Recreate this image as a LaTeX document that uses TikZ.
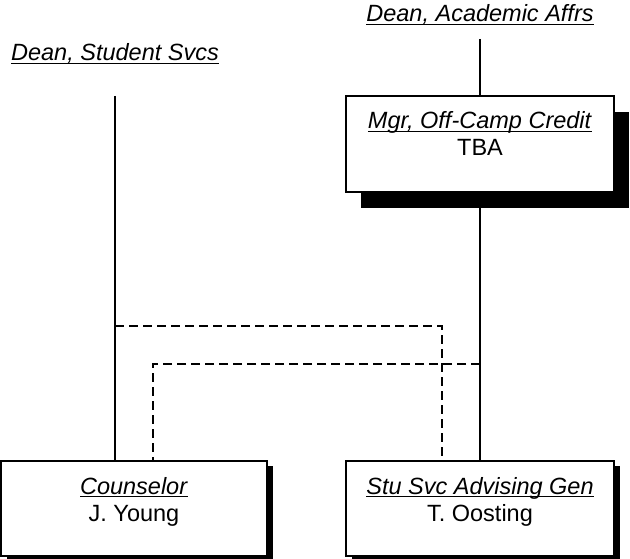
\documentclass[tikz,border=0pt]{standalone}
\usepackage{fontspec}
\setmainfont{Liberation Sans}
\usetikzlibrary{shadows}
\newsavebox\ulbox
\newcommand\ulx[1]{\sbox\ulbox{#1}\rlap{\rule[-3.4pt]{\wd\ulbox}{1.4pt}}\usebox\ulbox}
\begin{document}
\begin{tikzpicture}[x=1pt,y=-1pt,
  every node/.style={font=\fontsize{23.5}{27}\selectfont, inner sep=0pt},
  txt/.style={anchor=base},
  orgbox/.style={draw, line width=2pt, fill=white, minimum height=95pt},
  bigbox/.style={orgbox, minimum width=268pt, minimum height=96pt,
    drop shadow={shadow xshift=15pt, shadow yshift=-16pt, fill=black, opacity=1}},
  smallbox/.style={orgbox,
    drop shadow={shadow xshift=6pt, shadow yshift=-5pt, fill=black, opacity=1}},
  solidline/.style={line width=1.6pt},
  dashline/.style={line width=1.6pt, dash pattern=on 9pt off 5pt}]
\useasboundingbox (0,0) rectangle (630,559);
\fill[white] (0,0) rectangle (630,559);
% boxes
\node[bigbox] (mgr) at (480,144) {};
\node[smallbox, minimum width=266pt] (couns) at (134,508.5) {};
\node[smallbox, minimum width=268pt] (stu) at (480,508.5) {};
% texts
\node[txt] (deanaa) at (480,22) {\ulx{\textit{Dean, Academic Affrs}}};
\node[txt] (deanss) at (115,61) {\ulx{\textit{Dean, Student Svcs}}};
\node[txt] (mgrt) at (480,129) {\ulx{\textit{Mgr, Off-Camp Credit}}};
\node[txt] (mgrn) at (480,156) {TBA};
\node[txt] (counst) at (134,494) {\ulx{\textit{Counselor}}};
\node[txt] (counsn) at (134,521) {J. Young};
\node[txt] (stut) at (480,494) {\ulx{\textit{Stu Svc Advising Gen}}};
\node[txt] (stun) at (480,521) {T. Oosting};
% connectors
\coordinate (aatop) at (480,39);
\coordinate (sstop) at (115,96);
\draw[solidline] (aatop) -- (mgr.north);
\draw[solidline] (480,208) -- (stu.north);
\draw[solidline] (sstop) -- (sstop |- couns.north);
\coordinate (d1a) at (115,326);
\coordinate (d1b) at (442,326);
\draw[dashline] (d1a) -- (d1b) -- (d1b |- stu.north);
\coordinate (d2a) at (480,364);
\coordinate (d2b) at (153,364);
\draw[dashline] (d2a) -- (d2b) -- (d2b |- couns.north);
\end{tikzpicture}
\end{document}
